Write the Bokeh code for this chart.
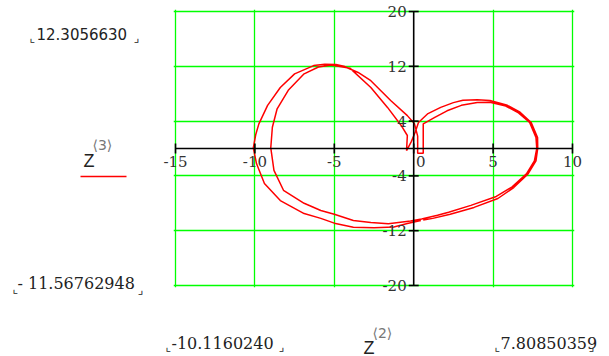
from bokeh.plotting import figure
from bokeh.models import Grid, FixedTicker
from bokeh.core.properties import value
from bokeh.embed import file_html
from bokeh.resources import INLINE

# Trajectory: column 2 (horizontal) against column 3 (vertical) of Z
z2 = [
    0.45, -0.4, -1.25, -2.5, -3.8, -5.0, -5.85, -6.9, -8.4, -9.4, -9.9, -10.1,
    -9.95, -9.75, -9.2, -8.4, -7.5, -6.3, -5.6, -4.9, -4.4, -3.5, -2.7, -1.45,
    -0.4, 0.05, 0.25, 0.25, 0.6, 0.6, 0.6,
    1.3, 2.1, 3.0, 4.0, 4.8, 5.8, 6.6, 7.3, 7.7, 7.75, 7.6, 7.1, 6.2, 5.2, 3.6,
    2.2, 1.5, 0.5, -0.2, -1.6, -2.7, -3.8, -5.0, -5.85, -6.9, -8.2, -8.8, -9.0,
    -8.9, -8.6, -7.9, -6.9, -6.0, -5.2, -4.0, -2.7, -1.65, -0.8, -0.4, -0.45,
    -0.15, 0.1, 0.3,
    0.9, 1.7, 2.5, 3.1, 4.0, 4.8, 5.9, 6.7, 7.4, 7.8, 7.81, 7.7, 7.2, 6.3, 5.3,
    3.8, 2.3, 1.2, 0.6,
]
z3 = [
    -10.5, -10.95, -11.45, -11.57, -11.5, -10.9, -10.2, -9.5, -7.6, -5.1, -2.2, 0.1,
    2.0, 3.6, 6.3, 8.9, 10.9, 12.1, 12.3, 12.25, 12.0, 11.1, 9.9, 7.0,
    4.8, 3.6, 1.8, -0.7, -0.7, 1.6, 3.6,
    4.5, 5.5, 6.3, 6.7, 6.75, 6.2, 5.2, 3.8, 1.6, 0.0, -1.8, -3.7, -5.6, -7.0, -8.3,
    -9.3, -9.75, -10.3, -10.6, -11.0, -10.8, -10.5, -9.6, -9.05, -8.0, -6.1, -3.2, 0.1,
    3.1, 5.8, 8.5, 10.9, 11.9, 12.2, 11.7, 8.9, 6.0, 3.4, 1.9, -0.3,
    1.0, 2.4, 3.8,
    5.1, 6.0, 6.7, 7.05, 7.1, 7.0, 6.3, 5.3, 3.8, 1.6, 0.0, -1.8, -3.7, -5.7, -7.3,
    -8.6, -9.6, -10.2, -10.45,
]

x_ticks = [-15, -10, -5, 0, 5, 10]
y_ticks = [-20, -12, -4, 4, 12, 20]
x_grid = [-15, -10, -5, 5, 10]
y_grid = [-20, -12, -4, 4, 12, 20]

z3_max_text = "12.3056630"
z3_min_text = "- 11.56762948"
z2_min_text = "-10.1160240"
z2_max_text = "7.80850359"

X_LO, X_HI = -15.126, 10.126
Y_LO, Y_HI = -20.292, 20.292
LEFT, RIGHT, TOP, BOTTOM = 173, 35, 9, 69
W, H = 609, 356
PX_X = (W - LEFT - RIGHT) / (X_HI - X_LO)
PX_Y = (H - TOP - BOTTOM) / (Y_HI - Y_LO)


def dx(px):
    return X_LO + (px - LEFT) / PX_X


def dy(py):
    return Y_HI - (py - TOP) / PX_Y


p = figure(width=W, height=H, x_range=(X_LO, X_HI), y_range=(Y_LO, Y_HI),
           x_axis_location=None, y_axis_location=None,
           toolbar_location=None, output_backend="svg",
           min_border_left=LEFT, min_border_right=RIGHT,
           min_border_top=TOP, min_border_bottom=BOTTOM)
p.outline_line_color = None
p.background_fill_color = "white"
p.border_fill_color = "white"
for g in p.grid:
    g.visible = False

green = "#00ff00"
p.add_layout(Grid(dimension=0, ticker=FixedTicker(ticks=x_grid),
                  grid_line_color=green, grid_line_width=1.3))
p.add_layout(Grid(dimension=1, ticker=FixedTicker(ticks=y_grid),
                  grid_line_color=green, grid_line_width=1.3))

# Crossed axes through the origin
axis_kw = dict(line_color="black", line_width=1.6, level="overlay")
p.line([x_ticks[0], x_ticks[-1]], [0, 0], **axis_kw)
p.line([0, 0], [y_ticks[0], y_ticks[-1]], **axis_kw)
tx = 5 / PX_X
ty = 5 / PX_Y
p.segment(x0=x_ticks, y0=[-ty] * len(x_ticks), x1=x_ticks, y1=[ty] * len(x_ticks),
          **axis_kw)
p.segment(x0=[-tx] * len(y_ticks), y0=y_ticks, x1=[tx] * len(y_ticks), y1=y_ticks,
          **axis_kw)

tick_font = value("DejaVu Serif")
x_shift = [7 if t == 0 else 0 for t in x_ticks]
p.text(x=x_ticks, y=[0] * len(x_ticks), text=[str(t) for t in x_ticks],
       x_offset=x_shift, y_offset=7, text_align="center", text_baseline="top",
       text_font=tick_font, text_font_size="15px", text_color="#333333",
       level="overlay")
p.text(x=[0] * len(y_ticks), y=y_ticks, text=[str(t) for t in y_ticks],
       x_offset=-7, text_align="right", text_baseline="middle",
       text_font=tick_font, text_font_size="15px", text_color="#333333",
       level="overlay")

p.line(z2, z3, line_color="#ff0000", line_width=1.5)

# Legend swatch for the trace
p.line([dx(80), dx(126)], [dy(176), dy(176)], line_color="#ff0000",
       line_width=1.6, level="overlay")


def label(text, px, py, font, size, color="#222222"):
    p.text(x=[dx(px)], y=[dy(py)], text=[text], text_font=value(font),
           text_font_size=size, text_color=color, text_align="left",
           text_baseline="alphabetic", level="overlay")


corner_l, corner_r = "\u231e", "\u231f"

# Axis limit read-outs
label(z3_max_text, 36, 33, "DejaVu Sans", "15px")
label(corner_l, 29, 37, "DejaVu Sans", "12px")
label(corner_r, 133, 37, "DejaVu Sans", "12px")

label(z3_min_text, 17, 283, "DejaVu Serif", "16px")
label(corner_l, 12, 288, "DejaVu Sans", "12px")
label(corner_r, 137, 289, "DejaVu Sans", "12px")

label(z2_min_text, 171, 342, "DejaVu Serif", "16px")
label(corner_l, 165, 346, "DejaVu Sans", "12px")
label(corner_r, 278, 346, "DejaVu Sans", "12px")

label(z2_max_text, 500, 342, "DejaVu Serif", "16px")
label(corner_l, 494, 346, "DejaVu Sans", "12px")
label(corner_r, 588, 346, "DejaVu Sans", "12px")

# Axis titles Z<3> and Z<2>
label("Z", 83, 160, "Liberation Sans", "18px")
label("\u27e83\u27e9", 92, 144, "DejaVu Sans", "14px", color="#777777")
label("Z", 363, 347, "Liberation Sans", "18px")
label("\u27e82\u27e9", 372, 332, "DejaVu Sans", "14px", color="#777777")

open("out.html", "w").write(file_html(p, INLINE))
